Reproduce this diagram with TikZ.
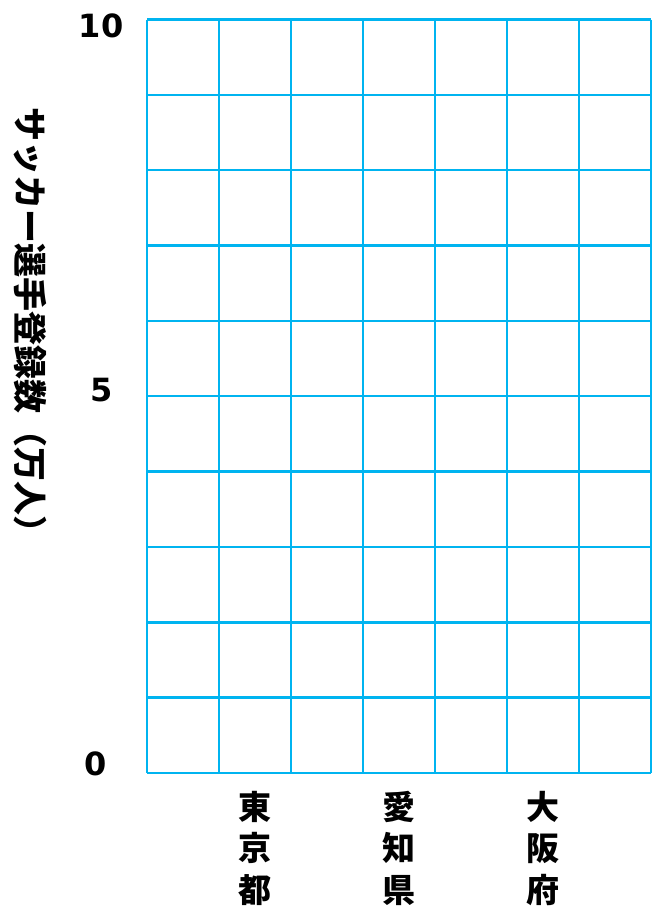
\documentclass[tikz,border=0pt]{standalone}
\usepackage{fontspec}
\setmainfont{DejaVu Sans}
\newfontfamily\jp[BoldFont={Noto Sans CJK JP Black}]{Noto Sans CJK JP}
\definecolor{gridcyan}{HTML}{00B4F0}
\begin{document}
\begin{tikzpicture}[x=1pt,y=-1pt,
  gridline/.style={draw=gridcyan,line width=2.4pt},
  numlab/.style={font=\fontsize{32}{32}\selectfont\bfseries,inner sep=0pt},
  catlab/.style={font=\jp\bfseries\fontsize{33}{41.5}\selectfont,align=center,inner sep=0pt,anchor=north},
  axlab/.style={font=\jp\bfseries\fontsize{34}{34}\selectfont,rotate=-90,inner sep=0pt}]
\useasboundingbox (0,0) rectangle (652,910);
\fill[white] (0,0) rectangle (652,910);
\def\gl{147}\def\gr{651}\def\gt{19.5}\def\gb{773}
\foreach \i in {0,...,7} {
  \draw[gridline] ({\gl+72*\i},\gt) -- ({\gl+72*\i},\gb);
}
\foreach \j in {0,...,10} {
  \draw[gridline] (\gl,{\gt+75.35*\j}) -- (\gr,{\gt+75.35*\j});
}
\node[numlab] (n10) at (101,26) {10};
\node[numlab] (n5) at (102,390) {5};
\node[numlab] (n0) at (96,764) {0};
\node[axlab] (ylab) at (30,328) {サッカー選手登録数（万人）};
\node[catlab] (c1) at (255,791) {東\\京\\都};
\node[catlab] (c2) at (399,791) {愛\\知\\県};
\node[catlab] (c3) at (543,791) {大\\阪\\府};
\end{tikzpicture}
\end{document}
